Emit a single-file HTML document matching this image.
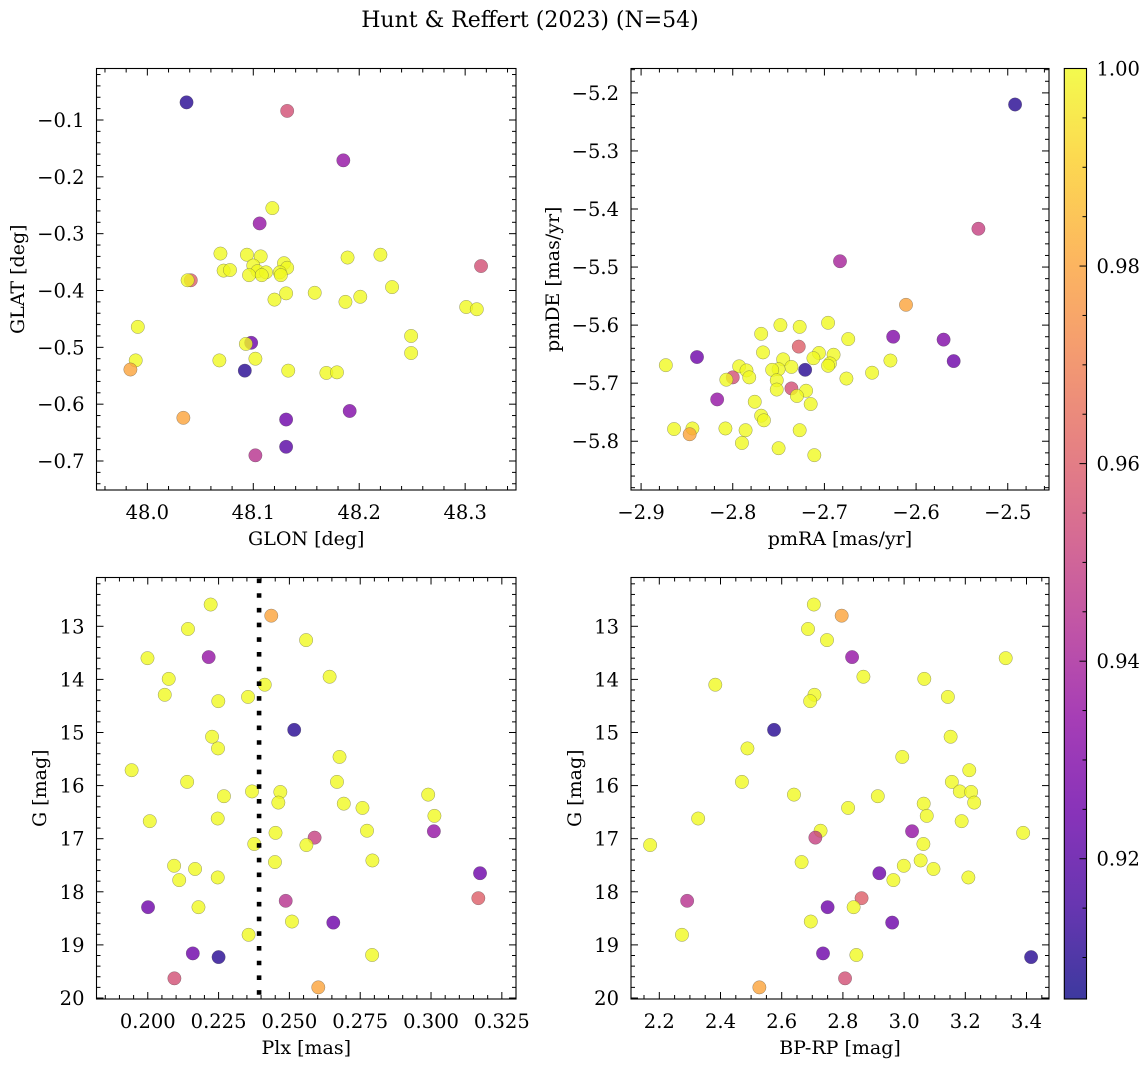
<!DOCTYPE html>
<html><head><meta charset="utf-8"><style>
html,body{margin:0;padding:0;background:#fff;}
svg{display:block;font-family:"DejaVu Serif","Liberation Serif",serif;}
</style></head><body>
<svg id="fig" width="1148" height="1068" viewBox="0 0 1148 1068" xmlns="http://www.w3.org/2000/svg">
<defs>
<linearGradient id="plasmaGrad" x1="0" y1="1" x2="0" y2="0">
<stop offset="0" stop-color="#0d0887"/><stop offset="0.1" stop-color="#41049d"/><stop offset="0.2" stop-color="#6a00a8"/><stop offset="0.3" stop-color="#8f0da4"/><stop offset="0.4" stop-color="#b12a90"/><stop offset="0.5" stop-color="#cc4778"/><stop offset="0.6" stop-color="#e16462"/><stop offset="0.7" stop-color="#f2844b"/><stop offset="0.8" stop-color="#fca636"/><stop offset="0.9" stop-color="#fcce25"/><stop offset="1" stop-color="#f0f921"/>
</linearGradient>
</defs>
<text x="530" y="27" font-size="22" text-anchor="middle">Hunt &amp; Reffert (2023) (N=54)</text>
</svg>
<script>
// ---- Panel 1: GLON vs GLAT ----
const p1Glon = [48.037,48.132,48.185,48.118,48.106,48.069,48.094,48.107,48.189,48.220,48.315,48.129,48.132,48.072,48.078,48.100,48.104,48.112,48.096,48.108,48.125,48.126,48.041,48.038,48.131,48.120,48.158,48.187,48.201,48.231,48.301,48.311,47.991,48.249,48.249,48.098,48.093,47.989,48.068,48.102,47.984,48.092,48.133,48.169,48.179,48.034,48.131,48.191,48.131,48.102];
const p1Glat = [-0.069,-0.084,-0.171,-0.255,-0.282,-0.335,-0.337,-0.340,-0.342,-0.337,-0.357,-0.352,-0.360,-0.365,-0.364,-0.356,-0.366,-0.368,-0.373,-0.373,-0.368,-0.373,-0.382,-0.382,-0.405,-0.416,-0.404,-0.420,-0.411,-0.394,-0.429,-0.433,-0.464,-0.480,-0.510,-0.492,-0.494,-0.523,-0.523,-0.520,-0.539,-0.541,-0.541,-0.545,-0.544,-0.624,-0.627,-0.612,-0.675,-0.690];
const p1Prob = [0.91,0.955,0.935,1,0.935,1,1,1,1,1,0.955,1,1,1,1,1,1,1,1,1,1,1,0.96,1,1,1,1,1,1,1,1,1,1,1,1,0.925,1,1,1,1,0.98,0.91,1,1,1,0.98,0.925,0.93,0.92,0.945];
// ---- Panel 2: pmRA vs pmDE ----
const p2Pmra = [-2.492,-2.532,-2.683,-2.611,-2.696,-2.748,-2.727,-2.769,-2.674,-2.625,-2.570,-2.728,-2.767,-2.706,-2.690,-2.839,-2.559,-2.745,-2.712,-2.873,-2.793,-2.694,-2.696,-2.736,-2.628,-2.785,-2.750,-2.757,-2.721,-2.800,-2.807,-2.782,-2.648,-2.676,-2.752,-2.752,-2.736,-2.720,-2.730,-2.715,-2.817,-2.776,-2.769,-2.766,-2.864,-2.844,-2.847,-2.808,-2.786,-2.727,-2.790,-2.750,-2.711];
const p2Pmde = [-5.220,-5.434,-5.490,-5.565,-5.596,-5.600,-5.603,-5.615,-5.624,-5.620,-5.625,-5.637,-5.647,-5.648,-5.651,-5.655,-5.662,-5.659,-5.657,-5.669,-5.671,-5.666,-5.670,-5.672,-5.661,-5.678,-5.676,-5.677,-5.677,-5.690,-5.694,-5.690,-5.682,-5.692,-5.695,-5.711,-5.709,-5.713,-5.722,-5.736,-5.728,-5.732,-5.756,-5.764,-5.779,-5.778,-5.788,-5.778,-5.781,-5.781,-5.803,-5.812,-5.824];
const p2Prob = [0.91,0.95,0.94,0.98,1,1,1,1,1,0.93,0.93,0.96,1,1,1,0.925,0.925,1,1,1,1,1,1,1,1,1,1,1,0.91,0.955,1,1,1,1,1,1,0.955,1,1,1,0.935,1,1,1,1,1,0.98,1,1,1,1,1,1];
// ---- Bottom panels ----
const plx = [0.2222,0.2436,0.2142,0.2559,0.1999,0.2215,0.2074,0.2642,0.2413,0.2060,0.2354,0.2249,0.2517,0.2227,0.2248,0.2677,0.1943,0.2139,0.2668,0.2368,0.2468,0.2990,0.2269,0.2461,0.2692,0.2758,0.3012,0.2007,0.2247,0.3010,0.2451,0.2774,0.2589,0.2560,0.2376,0.2449,0.2793,0.2093,0.2167,0.3173,0.2111,0.2247,0.3167,0.2487,0.2001,0.2179,0.2509,0.2655,0.2356,0.2159,0.2250,0.2792,0.2094,0.2602];
const bprp = [2.705,2.796,2.686,2.748,2.830,3.332,2.867,3.066,2.383,2.707,2.693,3.143,2.575,3.152,2.488,2.994,3.213,2.470,3.156,3.182,3.219,2.640,2.914,3.229,3.064,2.817,3.074,3.188,2.327,3.026,3.389,2.727,2.710,3.063,2.170,2.665,3.054,2.999,3.096,2.919,2.965,3.210,2.861,2.291,2.750,2.835,2.695,2.961,2.274,2.735,3.415,2.844,2.807,2.527];
const gmag = [12.59,12.80,13.05,13.26,13.60,13.58,13.99,13.95,14.10,14.29,14.33,14.41,14.95,15.08,15.30,15.46,15.71,15.93,15.93,16.11,16.12,16.17,16.20,16.32,16.34,16.42,16.57,16.67,16.62,16.86,16.89,16.85,16.98,17.12,17.10,17.44,17.41,17.51,17.57,17.65,17.78,17.73,18.12,18.17,18.29,18.29,18.56,18.58,18.81,19.16,19.23,19.19,19.63,19.80];
const gProbPlx = [1,0.98,1,1,1,0.935,1,1,1,1,1,1,0.91,1,1,1,1,1,1,1,1,1,1,1,1,1,1,1,1,0.935,1,1,0.95,1,1,1,1,1,1,0.925,1,1,0.96,0.945,0.925,1,1,0.925,1,0.925,0.91,1,0.955,0.98];
const gmagCmd = [12.59,12.80,13.05,13.26,13.58,13.60,13.95,13.99,14.10,14.29,14.41,14.33,14.95,15.08,15.30,15.46,15.71,15.93,15.93,16.11,16.12,16.17,16.20,16.32,16.34,16.42,16.57,16.67,16.62,16.86,16.89,16.85,16.98,17.10,17.12,17.44,17.41,17.51,17.57,17.65,17.78,17.73,18.12,18.17,18.29,18.29,18.56,18.58,18.81,19.16,19.23,19.19,19.63,19.80];
const gProbCmd = [1,0.98,1,1,0.935,1,1,1,1,1,1,1,0.91,1,1,1,1,1,1,1,1,1,1,1,1,1,1,1,1,0.935,1,1,0.95,1,1,1,1,1,1,0.925,1,1,0.96,0.945,0.925,1,1,0.925,1,0.925,0.91,1,0.955,0.98];
const plxCut = [0.2393];
// ---- Tick label arrays ----
const p1XTicks = [48.0,48.1,48.2,48.3];
const p1YTicks = [-0.1,-0.2,-0.3,-0.4,-0.5,-0.6,-0.7];
const p2XTicks = [-2.9,-2.8,-2.7,-2.6,-2.5];
const p2YTicks = [-5.2,-5.3,-5.4,-5.5,-5.6,-5.7,-5.8];
const p3XTicks = [0.200,0.225,0.250,0.275,0.300,0.325];
const gTicks = [13,14,15,16,17,18,19,20];
const p4XTicks = [2.2,2.4,2.6,2.8,3.0,3.2,3.4];
const cbTicks = [0.92,0.94,0.96,0.98,1.00];

const NS = "http://www.w3.org/2000/svg";
const svg = document.getElementById('fig');
const TICKFS = 19.5, LABFS = 19;
function mk(tag, attrs, parent){ const e=document.createElementNS(NS,tag); for(const k in attrs) e.setAttribute(k,attrs[k]); (parent||svg).appendChild(e); return e; }

const PL = [[13,8,135],[65,4,157],[106,0,168],[143,13,164],[177,42,144],[204,71,120],[225,100,98],[242,132,75],[252,166,54],[252,206,37],[240,249,33]];
const CMIN = 0.9058, CMAX = 1.0;
function plasma(p){
  let t=(p-CMIN)/(CMAX-CMIN); t=Math.max(0,Math.min(1,t));
  const s=t*10, i=Math.min(9,Math.floor(s)), f=s-i;
  const c=PL[i].map((v,k)=>Math.round(v+(PL[i+1][k]-v)*f));
  return 'rgb('+c.join(',')+')';
}
function fmt(v,d){ const s=v.toFixed(d); return s.replace('-','\u2212'); }

function drawPanel(cfg){
  const g = mk('g',{});
  
  
  const sx = v => cfg.x0 + (v-cfg.xmin)/(cfg.xmax-cfg.xmin)*(cfg.x1-cfg.x0);
  const sy = cfg.yinv ? (v => cfg.y0 + (v-cfg.ymin)/(cfg.ymax-cfg.ymin)*(cfg.y1-cfg.y0))
                      : (v => cfg.y1 - (v-cfg.ymin)/(cfg.ymax-cfg.ymin)*(cfg.y1-cfg.y0));
  const pg = mk('g',{},g);
  
  
  for(let i=0;i<cfg.xs.length;i++){
    const c = mk('circle',{cx:sx(cfg.xs[i]).toFixed(2),cy:sy(cfg.ys[i]).toFixed(2),r:6.7,fill:plasma(cfg.ps[i]),'fill-opacity':0.8,stroke:'rgba(70,70,70,0.55)','stroke-width':0.5},pg);
    
    
  }
  if(cfg.vline){
    for(const v of cfg.vline){
      const l = mk('line',{x1:sx(v),x2:sx(v),y1:cfg.y0+1,y2:cfg.y1,stroke:'#000','stroke-width':4.6,'stroke-dasharray':'4.6 10.1'},g);
      
      
    }
  }
  const fr = mk('rect',{x:cfg.x0,y:cfg.y0,width:cfg.x1-cfg.x0,height:cfg.y1-cfg.y0,fill:'none',stroke:'#000','stroke-width':1.1},g);
  
  
  const tg = mk('g',{stroke:'#000','stroke-width':1},g);
  
  
  const isMajor=(v,arr,step)=>arr.some(a=>Math.abs(a-v)<step*0.3);
  const lo=Math.min(cfg.xmin,cfg.xmax), hi=Math.max(cfg.xmin,cfg.xmax);
  for(let v=Math.ceil(lo/cfg.xminor)*cfg.xminor; v<=hi; v+=cfg.xminor){
    const L = isMajor(v,cfg.xticks,cfg.xminor)?7:4, X=sx(v);
    mk('line',{x1:X,x2:X,y1:cfg.y1,y2:cfg.y1-L},tg); mk('line',{x1:X,x2:X,y1:cfg.y0,y2:cfg.y0+L},tg);
  }
  const ylo=Math.min(cfg.ymin,cfg.ymax), yhi=Math.max(cfg.ymin,cfg.ymax);
  for(let v=Math.ceil(ylo/cfg.yminor)*cfg.yminor; v<=yhi; v+=cfg.yminor){
    const L = isMajor(v,cfg.yticks,cfg.yminor)?7:4, Y=sy(v);
    mk('line',{x1:cfg.x0,x2:cfg.x0+L,y1:Y,y2:Y},tg); mk('line',{x1:cfg.x1,x2:cfg.x1-L,y1:Y,y2:Y},tg);
  }
  for(const v of cfg.xticks){
    const t = mk('text',{x:sx(v),y:cfg.y1+29,'font-size':TICKFS,'text-anchor':'middle'},g);
    
    
    t.textContent = fmt(v,cfg.xdec);
  }
  for(const v of cfg.yticks){
    const Y=sy(v); if(Y<cfg.y0-2||Y>cfg.y1+3) continue;
    const t = mk('text',{x:cfg.x0-12,y:Y+7,'font-size':TICKFS,'text-anchor':'end'},g);
    
    
    t.textContent = fmt(v,cfg.ydec);
  }
  const xl = mk('text',{x:(cfg.x0+cfg.x1)/2,y:cfg.y1+55,'font-size':LABFS,'text-anchor':'middle'},g);
  
  
  xl.textContent = cfg.xlabel;
  const yl = mk('text',{x:0,y:0,'font-size':LABFS,'text-anchor':'middle',transform:'translate('+cfg.ylx+','+((cfg.y0+cfg.y1)/2)+') rotate(-90)'},g);
  
  
  yl.textContent = cfg.ylabel;
}

drawPanel({name:'glon-glat-panel',x0:96.5,x1:516,y0:68.5,y1:490,xmin:47.952,xmax:48.348,ymin:-0.751,ymax:-0.0094,
  xs:p1Glon,ys:p1Glat,ps:p1Prob,xticks:p1XTicks,yticks:p1YTicks,xminor:0.02,yminor:0.02,xdec:1,ydec:1,xlabel:'GLON [deg]',ylabel:'GLAT [deg]',ylx:24});
drawPanel({name:'proper-motion-panel',x0:631,x1:1049,y0:68.5,y1:490,xmin:-2.911,xmax:-2.455,ymin:-5.884,ymax:-5.158,
  xs:p2Pmra,ys:p2Pmde,ps:p2Prob,xticks:p2XTicks,yticks:p2YTicks,xminor:0.02,yminor:0.02,xdec:1,ydec:1,xlabel:'pmRA [mas/yr]',ylabel:'pmDE [mas/yr]',ylx:559});
drawPanel({name:'parallax-mag-panel',x0:96.5,x1:516,y0:577.5,y1:999,xmin:0.1819,xmax:0.3300,ymin:12.081,ymax:20.019,yinv:true,vline:plxCut,
  xs:plx,ys:gmag,ps:gProbPlx,xticks:p3XTicks,yticks:gTicks,xminor:0.005,yminor:0.2,xdec:3,ydec:0,xlabel:'Plx [mas]',ylabel:'G [mag]',ylx:46});
drawPanel({name:'color-mag-panel',x0:631,x1:1049,y0:577.5,y1:999,xmin:2.1075,xmax:3.4735,ymin:12.081,ymax:20.019,yinv:true,
  xs:bprp,ys:gmagCmd,ps:gProbCmd,xticks:p4XTicks,yticks:gTicks,xminor:0.05,yminor:0.2,xdec:1,ydec:0,xlabel:'BP-RP [mag]',ylabel:'G [mag]',ylx:581});

(function(){
  const cg = mk('g',{});
  
  
  const x0=1064.3,x1=1086.5,y0=68.5,y1=999;
  const cy = v => y0 + (CMAX-v)/(CMAX-CMIN)*(y1-y0);
  mk('rect',{x:x0,y:y0,width:x1-x0,height:y1-y0,fill:'url(#plasmaGrad)','fill-opacity':0.8},cg);
  mk('rect',{x:x0,y:y0,width:x1-x0,height:y1-y0,fill:'none',stroke:'#000','stroke-width':1.1},cg);
  for(let v=0.91; v<=1.0001; v+=0.005){
    const maj = cbTicks.some(a=>Math.abs(a-v)<0.001);
    mk('line',{x1:x1,x2:x1-(maj?7:4),y1:cy(v),y2:cy(v),stroke:'#000','stroke-width':1},cg);
  }
  for(const v of cbTicks){
    const t = mk('text',{x:x1+10,y:cy(v)+7,'font-size':TICKFS},cg);
    
    
    t.textContent = v.toFixed(2);
  }
})();
</script>
</body></html>
